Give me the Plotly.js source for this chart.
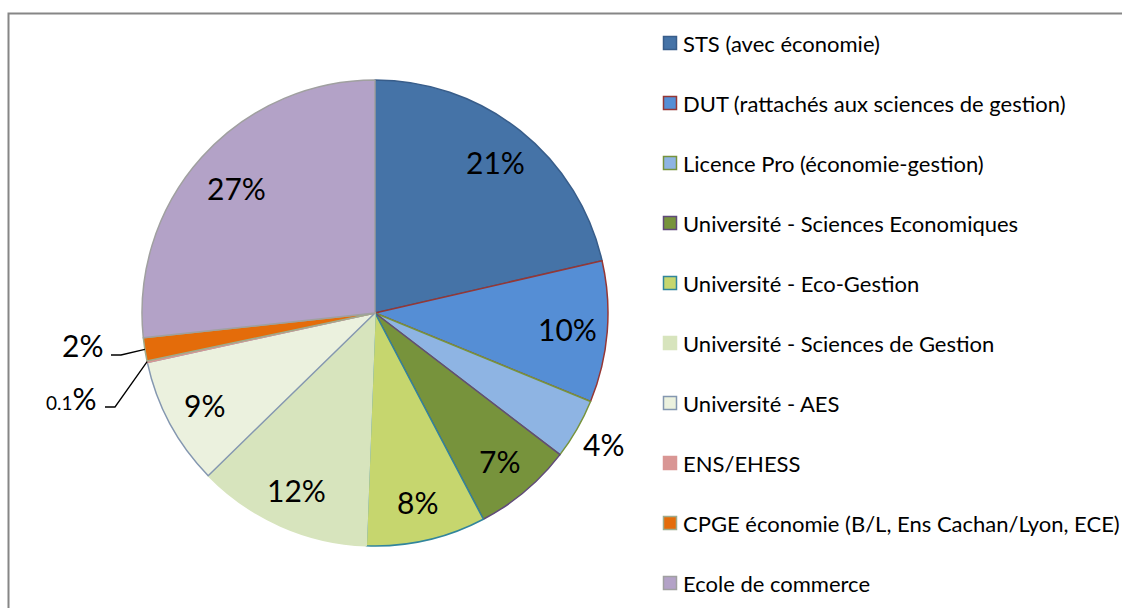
<!DOCTYPE html>
<html><head><meta charset="utf-8">
<script src="https://cdn.plot.ly/plotly-3.0.1.min.js"></script>
<style>html,body{margin:0;padding:0;background:#fff}#chart{width:1122px;height:608px}</style>
</head><body><div id="chart"></div>
<script>
const categories = [
  'STS (avec économie)',
  'DUT (rattachés aux sciences de gestion)',
  'Licence Pro (économie-gestion)',
  'Université - Sciences Economiques',
  'Université - Eco-Gestion',
  'Université - Sciences de Gestion',
  'Université - AES',
  'ENS/EHESS',
  'CPGE économie (B/L, Ens Cachan/Lyon, ECE)',
  'Ecole de commerce'
];
const shares = [21.4, 9.8, 4.2, 6.9, 8.3, 12.1, 8.9, 0.1, 1.6, 26.7];
const pctLabels = ['21%', '10%', '4%', '7%', '8%', '12%', '9%', '0.1%', '2%', '27%'];
const fillColors = ['#4573A7', '#558ED5', '#8EB4E3', '#77933C', '#C6D66E', '#D7E4BD', '#EBF1DE', '#D99694', '#E46C0A', '#B3A2C7'];
const lineColors = ['#385D8A', '#953735', '#77933C', '#604A7B', '#31859C', '#D7E4BD', '#8497B0', '#D99694', '#9EAB8C', '#A0A0A0'];

const W = 1122, H = 608;
const cx = 375, cy = 313, R = 233;
const px = x => x / W, py = y => 1 - y / H;
const FONT = 'Lato, "Open Sans", sans-serif';

const data = [{
  type: 'pie', values: shares, labels: categories, sort: false,
  direction: 'clockwise', rotation: 0, textinfo: 'none',
  hoverinfo: 'label+percent', showlegend: false,
  marker: {colors: fillColors, line: {color: lineColors, width: 1.5}},
  domain: {x: [px(cx - R), px(cx + R)], y: [py(cy + R), py(cy - R)]}
}];

const total = shares.reduce((a, b) => a + b, 0);
const annotations = [];
const shapes = [];
// frame
shapes.push({type: 'rect', xref: 'paper', yref: 'paper', x0: px(8.5), x1: 1.05, y0: -0.05, y1: py(13.5),
  line: {color: '#868686', width: 2}, fillcolor: 'rgba(0,0,0,0)', layer: 'below'});

// label placement per slice: inside at a radius fraction, or outside with a leader line
const outsideText = {7: [99, 398], 8: [105, 345]};
let cum = 0;
shares.forEach((v, i) => {
  const mid = (cum + v / 2) / total * 2 * Math.PI;
  cum += v;
  if (outsideText[i]) {
    const [tx, ty] = outsideText[i];
    const ex = cx + R * Math.sin(mid), ey = cy - R * Math.cos(mid);
    const lineY = ty + (i === 7 ? 9 : 10);
    annotations.push({xref: 'paper', yref: 'paper', x: px(tx), y: py(ty), xanchor: 'right', yanchor: 'middle',
      text: i === 7 ? '<span style="font-size:19px">0.1</span>%' : pctLabels[i], showarrow: false,
      font: {family: FONT, size: 30, color: '#000'}});
    shapes.push({type: 'path', xref: 'paper', yref: 'paper',
      path: `M ${px(tx + 6)} ${py(lineY)} L ${px(tx + 16)} ${py(lineY)} L ${px(ex)} ${py(ey)}`,
      line: {color: '#000', width: 1.3}});
  } else {
    const r = i === 2 ? 1.13 * R : (i === 9 ? 0.8 * R : 0.83 * R);
    annotations.push({xref: 'paper', yref: 'paper', x: px(cx + r * Math.sin(mid)), y: py(cy - r * Math.cos(mid)),
      xanchor: 'center', yanchor: 'middle', text: pctLabels[i], showarrow: false,
      font: {family: FONT, size: 30, color: '#000'}});
  }
});

// legend
categories.forEach((c, i) => {
  const yc = 43 + 60 * i;
  shapes.push({type: 'rect', xref: 'paper', yref: 'paper', x0: px(663.5), x1: px(676.5), y0: py(yc + 6.5), y1: py(yc - 6.5),
    fillcolor: fillColors[i], line: {color: lineColors[i], width: 1.5}});
  annotations.push({xref: 'paper', yref: 'paper', x: px(681), y: py(yc), xanchor: 'left', yanchor: 'middle',
    text: c, showarrow: false, font: {family: FONT, size: 22, color: '#000'}});
});

const layout = {
  width: W, height: H, margin: {l: 0, r: 0, t: 0, b: 0},
  paper_bgcolor: '#fff', showlegend: false,
  annotations: annotations, shapes: shapes
};
Plotly.newPlot('chart', data, layout, {staticPlot: true});
</script></body></html>
